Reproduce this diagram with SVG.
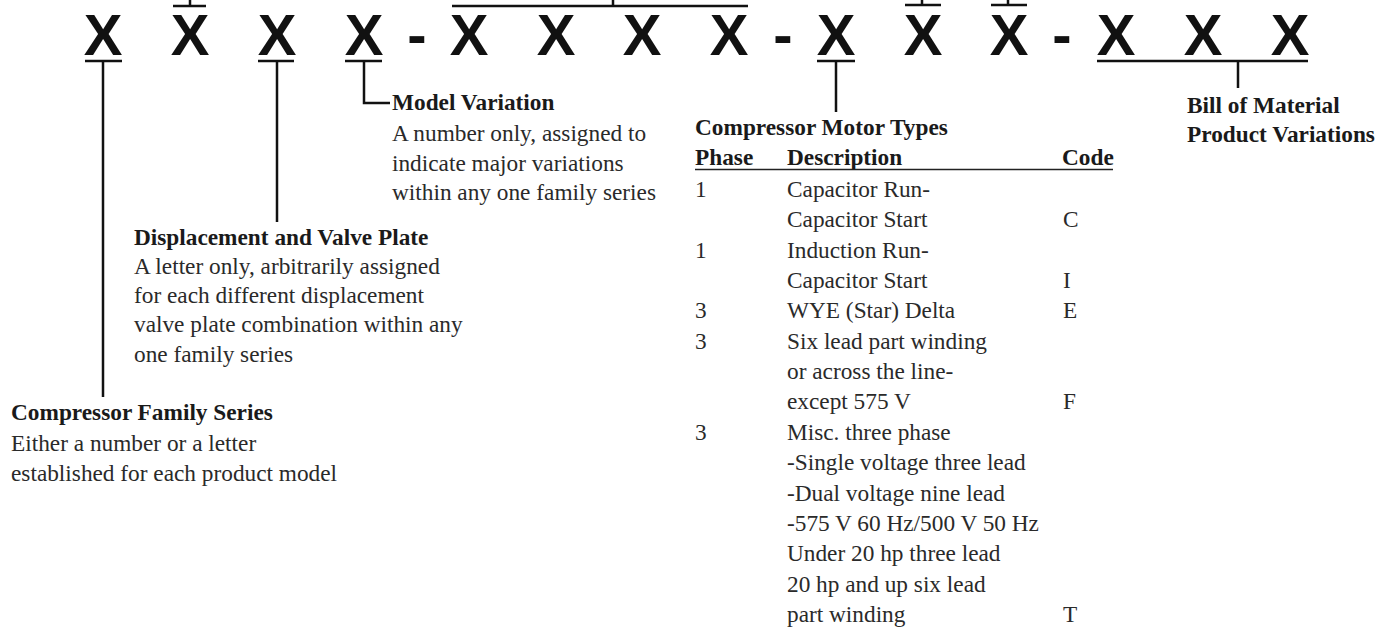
<svg xmlns="http://www.w3.org/2000/svg" width="1400" height="635" viewBox="0 0 1400 635">
<style>
.x{font-family:"Liberation Sans",Arial,sans-serif;font-weight:bold;font-size:58px;fill:#111;text-anchor:middle}
.t{font-family:"Liberation Serif","Times New Roman",serif;font-size:23.3px;fill:#2a2a2a}
.b{font-family:"Liberation Serif","Times New Roman",serif;font-size:23.3px;font-weight:bold;fill:#1a1a1a}
.ln{stroke:#111;stroke-width:2.5;fill:none}
.rule{stroke:#222;stroke-width:1.6}
</style>
<rect width="1400" height="635" fill="#fff"/>
<g id="code">
<text class="x" x="103" y="55">X</text>
<text class="x" x="190" y="55">X</text>
<text class="x" x="277" y="55">X</text>
<text class="x" x="364" y="55">X</text>
<text class="x" x="417" y="55">-</text>
<text class="x" x="469" y="55">X</text>
<text class="x" x="556" y="55">X</text>
<text class="x" x="642" y="55">X</text>
<text class="x" x="729" y="55">X</text>
<text class="x" x="783" y="55">-</text>
<text class="x" x="836" y="55">X</text>
<text class="x" x="923" y="55">X</text>
<text class="x" x="1009" y="55">X</text>
<text class="x" x="1062" y="55">-</text>
<text class="x" x="1116" y="55">X</text>
<text class="x" x="1203" y="55">X</text>
<text class="x" x="1290" y="55">X</text>
</g>
<g id="connectors">
<path class="ln" d="M85 61H122M103 61V397"/>
<path class="ln" d="M173 6H206M190 0V6"/>
<path class="ln" d="M258 61H294M277 61V222"/>
<path class="ln" d="M345 61H382M364 61V103H390"/>
<path class="ln" d="M452 6H748M613 0V6"/>
<path class="ln" d="M817 61H855M836 61V112"/>
<path class="ln" d="M905 5H941M922 0V5"/>
<path class="ln" d="M991 5H1027M1008 0V5"/>
<path class="ln" d="M1097 61H1308M1238 61V88"/>
</g>
<g id="family-series">
<text class="b" x="11" y="420">Compressor Family Series</text>
<text class="t" x="11" y="451">Either a number or a letter</text>
<text class="t" x="11" y="481">established for each product model</text>
</g>
<g id="displacement">
<text class="b" x="134" y="245">Displacement and Valve Plate</text>
<text class="t" x="134" y="274">A letter only, arbitrarily assigned</text>
<text class="t" x="134" y="303">for each different displacement</text>
<text class="t" x="134" y="332">valve plate combination within any</text>
<text class="t" x="134" y="362">one family series</text>
</g>
<g id="model-variation">
<text class="b" x="392" y="110">Model Variation</text>
<text class="t" x="392" y="141">A number only, assigned to</text>
<text class="t" x="392" y="171">indicate major variations</text>
<text class="t" x="392" y="200">within any one family series</text>
</g>
<g id="motor-types">
<text class="b" x="695" y="135">Compressor Motor Types</text>
<text class="b" x="695" y="165">Phase</text>
<text class="b" x="787" y="165">Description</text>
<text class="b" x="1062" y="165">Code</text>
<line class="rule" x1="695" y1="169.5" x2="1113" y2="169.5"/>
<text class="t" x="695" y="197">1</text>
<text class="t" x="787" y="197">Capacitor Run-</text>
<text class="t" x="787" y="227">Capacitor Start</text>
<text class="t" x="1063" y="227">C</text>
<text class="t" x="695" y="258">1</text>
<text class="t" x="787" y="258">Induction Run-</text>
<text class="t" x="787" y="288">Capacitor Start</text>
<text class="t" x="1063" y="288">I</text>
<text class="t" x="695" y="318">3</text>
<text class="t" x="787" y="318">WYE (Star) Delta</text>
<text class="t" x="1063" y="318">E</text>
<text class="t" x="695" y="349">3</text>
<text class="t" x="787" y="349">Six lead part winding</text>
<text class="t" x="787" y="379">or across the line-</text>
<text class="t" x="787" y="409">except 575 V</text>
<text class="t" x="1063" y="409">F</text>
<text class="t" x="695" y="440">3</text>
<text class="t" x="787" y="440">Misc. three phase</text>
<text class="t" x="787" y="470">-Single voltage three lead</text>
<text class="t" x="787" y="501">-Dual voltage nine lead</text>
<text class="t" x="787" y="531">-575 V 60 Hz/500 V 50 Hz</text>
<text class="t" x="787" y="561">Under 20 hp three lead</text>
<text class="t" x="787" y="592">20 hp and up six lead</text>
<text class="t" x="787" y="622">part winding</text>
<text class="t" x="1063" y="622">T</text>
</g>
<g id="bill-of-material">
<text class="b" x="1187" y="113">Bill of Material</text>
<text class="b" x="1187" y="142">Product Variations</text>
</g>
</svg>
